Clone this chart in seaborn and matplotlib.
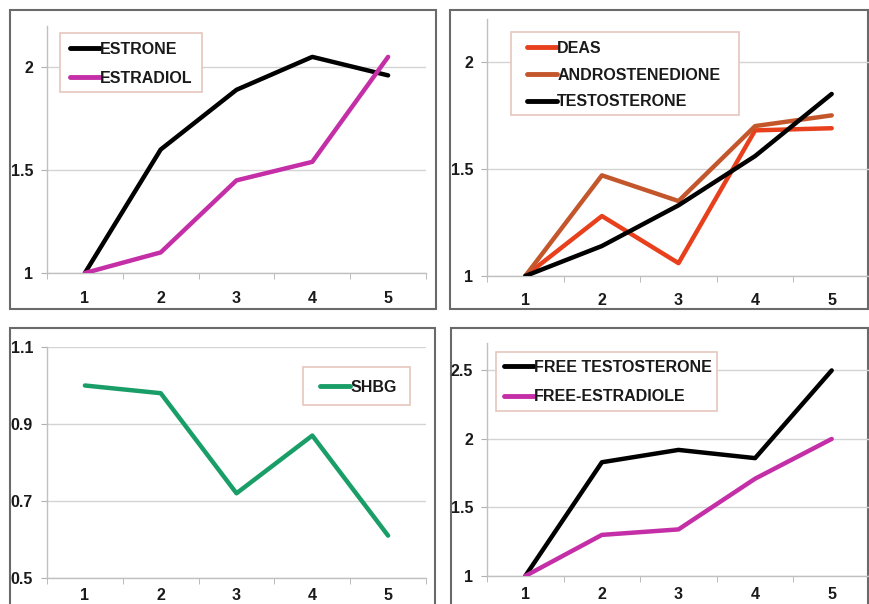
import numpy as np
import pandas as pd
import matplotlib
matplotlib.use("Agg")
import matplotlib.pyplot as plt
from matplotlib.patches import Rectangle
from matplotlib.ticker import FixedLocator
import seaborn as sns

# ---- data ----
time_points = [1, 2, 3, 4, 5]
estrone = [1.0, 1.60, 1.89, 2.05, 1.96]
estradiol = [1.0, 1.10, 1.45, 1.54, 2.05]
deas = [1.0, 1.28, 1.06, 1.68, 1.69]
androstenedione = [1.0, 1.47, 1.35, 1.70, 1.75]
testosterone = [1.0, 1.14, 1.33, 1.56, 1.85]
shbg = [1.0, 0.98, 0.72, 0.87, 0.61]
free_testosterone = [1.0, 1.83, 1.92, 1.86, 2.50]
free_estradiole = [1.0, 1.30, 1.34, 1.71, 2.00]

panel1_names = ["ESTRONE", "ESTRADIOL"]
panel2_names = ["DEAS", "ANDROSTENEDIONE", "TESTOSTERONE"]
panel3_names = ["SHBG"]
panel4_names = ["FREE TESTOSTERONE", "FREE-ESTRADIOLE"]

y_ticks1 = [1, 1.5, 2]
y_ticks2 = [1, 1.5, 2]
y_ticks3 = [0.5, 0.7, 0.9, 1.1]
y_ticks4 = [1, 1.5, 2, 2.5]

BLACK = "#000000"
MAGENTA = "#c42ea6"
DEAS_C = "#e8401c"
ANDRO_C = "#c4562c"
GREEN = "#1a9e68"

sns.set_style("white")
plt.rcParams["font.family"] = ["Liberation Sans", "DejaVu Sans"]
plt.rcParams["font.weight"] = "bold"

W, H = 869, 604
fig = plt.figure(figsize=(W / 100, H / 100), dpi=100)


def ax_at(left, top, right, bottom):
    return fig.add_axes([left / W, 1 - bottom / H, (right - left) / W, (bottom - top) / H])


def rect(left, top, right, bottom, color, lw, z):
    fig.add_artist(Rectangle((left / W, 1 - bottom / H), (right - left) / W, (bottom - top) / H,
                             transform=fig.transFigure, fill=False, edgecolor=color,
                             linewidth=lw, zorder=z))


# panel frames
rect(10, 10, 436, 309, "#6a6a6a", 1.5, 0)
rect(450, 10, 868, 309, "#6a6a6a", 1.5, 0)
rect(10, 328, 435, 606, "#6a6a6a", 1.5, 0)
rect(451, 328, 868, 606, "#6a6a6a", 1.5, 0)

TICK_FS = 11.5
LEG_FS = 11.5


def make_panel(ax, names, series, colors, ylim, yticks, yfmt, leg_anchor, leg_box, lspace, xpad):
    rows = []
    for n, s in zip(names, series):
        for x, v in zip(time_points, s):
            rows.append({"x": x, "value": v, "series": n})
    df = pd.DataFrame(rows)
    sns.lineplot(data=df, x="x", y="value", hue="series", hue_order=names,
                 palette=dict(zip(names, colors)), linewidth=3.2, ax=ax, zorder=3)
    ax.set_xlim(0.5, 5.5)
    ax.set_ylim(*ylim)
    ax.set_xlabel("")
    ax.set_ylabel("")
    ax.set_xticks(time_points)
    ax.set_xticklabels([str(t) for t in time_points], fontsize=TICK_FS, fontweight="bold", color="#1a1a1a")
    ax.xaxis.set_minor_locator(FixedLocator([0.5, 1.5, 2.5, 3.5, 4.5, 5.5]))
    ax.tick_params(axis="x", which="major", length=0, pad=xpad)
    ax.tick_params(axis="x", which="minor", length=4, color="#b0b0b0", direction="out", bottom=True)
    ax.set_yticks(yticks)
    ax.set_yticklabels([yfmt(t) for t in yticks], fontsize=TICK_FS, fontweight="bold", color="#1a1a1a")
    ax.tick_params(axis="y", length=4, color="#b0b0b0", pad=6, left=True)
    ax.grid(axis="y", color="#d4d4d4", linewidth=1)
    ax.grid(axis="x", visible=False)
    ax.set_axisbelow(True)
    for sp in ["top", "right"]:
        ax.spines[sp].set_visible(False)
    for sp in ["left", "bottom"]:
        ax.spines[sp].set_visible(True)
        ax.spines[sp].set_color("#c0c0c0")
        ax.spines[sp].set_linewidth(1)
    ax.patch.set_alpha(0)
    leg = ax.legend(loc="upper left", bbox_to_anchor=(leg_anchor[0] / W, 1 - leg_anchor[1] / H),
                    bbox_transform=fig.transFigure, frameon=False, borderaxespad=0,
                    handlelength=1.9, handletextpad=0.0, labelspacing=lspace, borderpad=0,
                    prop={"family": "Liberation Sans", "weight": "bold", "size": LEG_FS})
    leg.set_zorder(6)
    for line in leg.get_lines():
        line.set_linewidth(3.5)
    for t in leg.get_texts():
        t.set_color("#1a1a1a")
    # legend frame drawn as its own box, above the gridlines and below the legend entries
    box = Rectangle((leg_box[0] / W, 1 - leg_box[3] / H), (leg_box[2] - leg_box[0]) / W,
                    (leg_box[3] - leg_box[1]) / H, transform=fig.transFigure,
                    facecolor="white", edgecolor="#e6c6bd", linewidth=1.2, zorder=2.5,
                    clip_on=False)
    ax.add_artist(box)
    return ax


def fmt_g(v):
    return ("%g" % v)


ax1 = ax_at(47, 26, 426, 273)
make_panel(ax1, panel1_names, [estrone, estradiol], [BLACK, MAGENTA], (1, 2.2), y_ticks1, fmt_g,
           (70, 42), (60, 33, 202, 92), 0.85, 13)

ax2 = ax_at(487, 19, 870, 276)
make_panel(ax2, panel2_names, [deas, androstenedione, testosterone], [DEAS_C, ANDRO_C, BLACK],
           (1, 2.2), y_ticks2, fmt_g, (527, 41), (511, 32, 739, 115), 0.73, 12)

ax3 = ax_at(47, 347, 426, 578)
make_panel(ax3, panel3_names, [shbg], [GREEN], (0.5, 1.1), y_ticks3, lambda v: "%.1f" % v,
           (320, 380), (303, 367, 410, 405), 0.7, 7)

ax4 = ax_at(487, 343, 870, 576)
make_panel(ax4, panel4_names, [free_testosterone, free_estradiole], [BLACK, MAGENTA],
           (1, 2.7), y_ticks4, fmt_g, (504, 360), (496, 352, 717, 411), 0.9, 8)

fig.savefig("out.png", dpi=100, facecolor="white")
